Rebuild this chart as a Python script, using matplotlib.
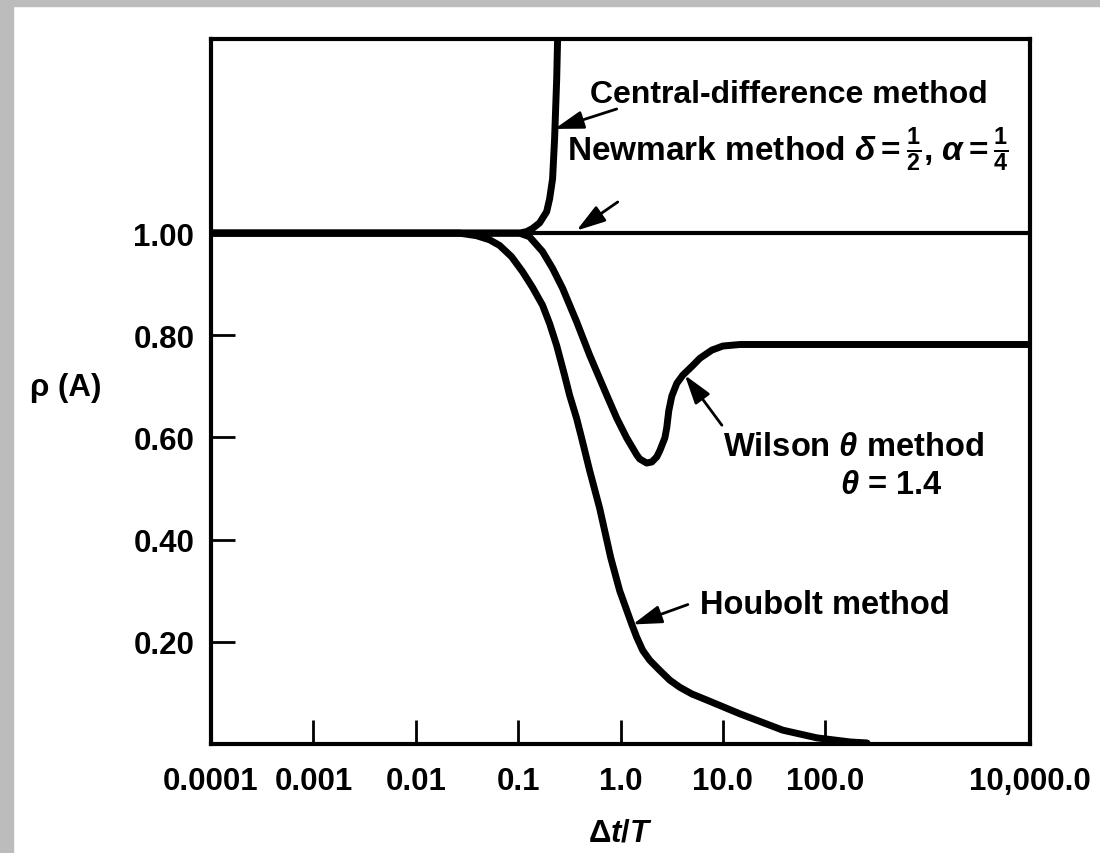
import matplotlib.pyplot as plt
from matplotlib.patches import Rectangle
from matplotlib.ticker import NullLocator

plt.rcParams['font.family'] = ['Liberation Sans', 'DejaVu Sans']
plt.rcParams['font.weight'] = 'bold'
plt.rcParams['mathtext.fontset'] = 'custom'
plt.rcParams['mathtext.rm'] = 'Liberation Sans:bold'
plt.rcParams['mathtext.it'] = 'Liberation Sans:italic:bold'
plt.rcParams['mathtext.bf'] = 'Liberation Sans:bold'
plt.rcParams['mathtext.sf'] = 'Liberation Sans:bold'

# 数据
xtick_vals = [1e-4, 1e-3, 1e-2, 1e-1, 1e0, 1e1, 1e2, 1e4]
xtick_labels = ['0.0001', '0.001', '0.01', '0.1', '1.0', '10.0', '100.0', '10,000.0']
ytick_vals = [0.2, 0.4, 0.6, 0.8, 1.0]
ytick_labels = ['0.20', '0.40', '0.60', '0.80', '1.00']

newmark_x = [1e-4, 1e4]
newmark_y = [1.0, 1.0]

central_x = [1e-4, 0.0736, 0.103, 0.121, 0.138, 0.162, 0.190, 0.203, 0.217, 0.227, 0.238, 0.243, 0.25]
central_y = [1.0, 1.0, 1.0, 1.003, 1.009, 1.020, 1.042, 1.067, 1.106, 1.184, 1.301, 1.380, 1.46]

wilson_x = [1e-4, 0.103, 0.129, 0.173, 0.217, 0.272, 0.372, 0.500, 0.733, 0.918, 1.15, 1.44,
            1.54, 1.80, 2.02, 2.26, 2.42, 2.71, 2.83, 2.96, 3.17, 3.55, 4.06, 5.09, 5.96,
            7.80, 10.0, 14.7, 1e4]
wilson_y = [1.0, 1.0, 0.993, 0.964, 0.931, 0.892, 0.827, 0.761, 0.683, 0.638, 0.599, 0.566,
            0.558, 0.550, 0.552, 0.562, 0.574, 0.599, 0.619, 0.652, 0.681, 0.706, 0.722, 0.741, 0.755,
            0.771, 0.779, 0.782, 0.782]

houbolt_x = [1e-4, 0.0267, 0.0392, 0.0525, 0.0658, 0.0861, 0.110, 0.138, 0.173, 0.203, 0.238,
             0.284, 0.318, 0.372, 0.417, 0.500, 0.625, 0.802, 0.982, 1.29, 1.44, 1.65, 1.93,
             2.42, 3.03, 3.80, 4.98, 6.97, 14.7, 38.6, 83, 175, 256]
houbolt_y = [1.0, 1.0, 0.995, 0.987, 0.976, 0.954, 0.925, 0.894, 0.859, 0.823, 0.780,
             0.722, 0.683, 0.638, 0.599, 0.535, 0.462, 0.365, 0.300, 0.234, 0.209, 0.183, 0.164,
             0.144, 0.125, 0.111, 0.098, 0.086, 0.059, 0.027, 0.012, 0.004, 0.002]

fig = plt.figure(figsize=(11, 8.54), dpi=100)

# 左侧和顶部的灰色边框
fig.patches.append(Rectangle((0, 0), 13 / 1100, 1, transform=fig.transFigure,
                             color='#bcbcbc', zorder=0))
fig.patches.append(Rectangle((0, 1 - 7 / 854), 1, 7 / 854, transform=fig.transFigure,
                             color='#bcbcbc', zorder=0))

ax = fig.add_axes([211 / 1100, 109 / 854, 819 / 1100, 705 / 854])

ax.plot(newmark_x, newmark_y, color='k', lw=3, solid_capstyle='butt')
for xs, ys in [(central_x, central_y), (wilson_x, wilson_y), (houbolt_x, houbolt_y)]:
    ax.plot(xs, ys, color='k', lw=5, solid_joinstyle='round', solid_capstyle='round')

ax.set_xscale('log')
ax.set_xlim(1e-4, 1e4)
ax.set_ylim(0, 1.38)
ax.set_xticks(xtick_vals)
ax.set_xticklabels(xtick_labels)
ax.xaxis.set_minor_locator(NullLocator())
ax.set_yticks(ytick_vals)
ax.set_yticklabels(ytick_labels)

ax.tick_params(axis='both', direction='in', length=17, width=2, labelsize=22.5, colors='k')
ax.tick_params(axis='x', pad=16)
ax.tick_params(axis='y', pad=12)
for lab in ax.get_xticklabels() + ax.get_yticklabels():
    lab.set_fontweight('bold')

for sp in ax.spines.values():
    sp.set_linewidth(3)

ax.set_xlabel(r'$\Delta t/T$', fontsize=22.5)
ax.xaxis.set_label_coords(0.5, -0.125)
ax.xaxis.label.set_va('center')
ax.set_ylabel('ρ (A)', fontsize=22.5, rotation=0, fontweight='bold')
ax.yaxis.set_label_coords(-0.178, 0.506)
ax.yaxis.label.set_va('center')
ax.yaxis.label.set_ha('center')

# 标注文字和箭头
arrow = dict(arrowstyle='-|>,head_length=0.8,head_width=0.25', lw=2, color='k',
             shrinkA=0, shrinkB=0, mutation_scale=22)
fs = 23.5

ax.text(0.5, 1.272, 'Central-difference method', fontsize=23, fontweight='bold',
        ha='left', va='center')
ax.annotate('', xy=(0.227, 1.204), xytext=(0.918, 1.243), arrowprops=arrow)

ax.text(0.298, 1.166, r'Newmark method $\delta = \frac{1}{2}$, $\alpha = \frac{1}{4}$',
        fontsize=24, fontweight='bold', ha='left', va='center')
ax.annotate('', xy=(0.372, 1.005), xytext=(0.94, 1.061), arrowprops=arrow)

ax.text(10.0, 0.583, r'Wilson $\theta$ method', fontsize=fs, fontweight='bold',
        ha='left', va='center')
ax.text(139.6, 0.507, r'$\theta$ = 1.4', fontsize=fs, fontweight='bold',
        ha='left', va='center')
ax.annotate('', xy=(4.25, 0.722), xytext=(9.78, 0.624), arrowprops=arrow)

ax.text(5.96, 0.273, 'Houbolt method', fontsize=fs, fontweight='bold',
        ha='left', va='center')
ax.annotate('', xy=(1.316, 0.234), xytext=(4.55, 0.273), arrowprops=arrow)

plt.savefig('out.png', dpi=100)
